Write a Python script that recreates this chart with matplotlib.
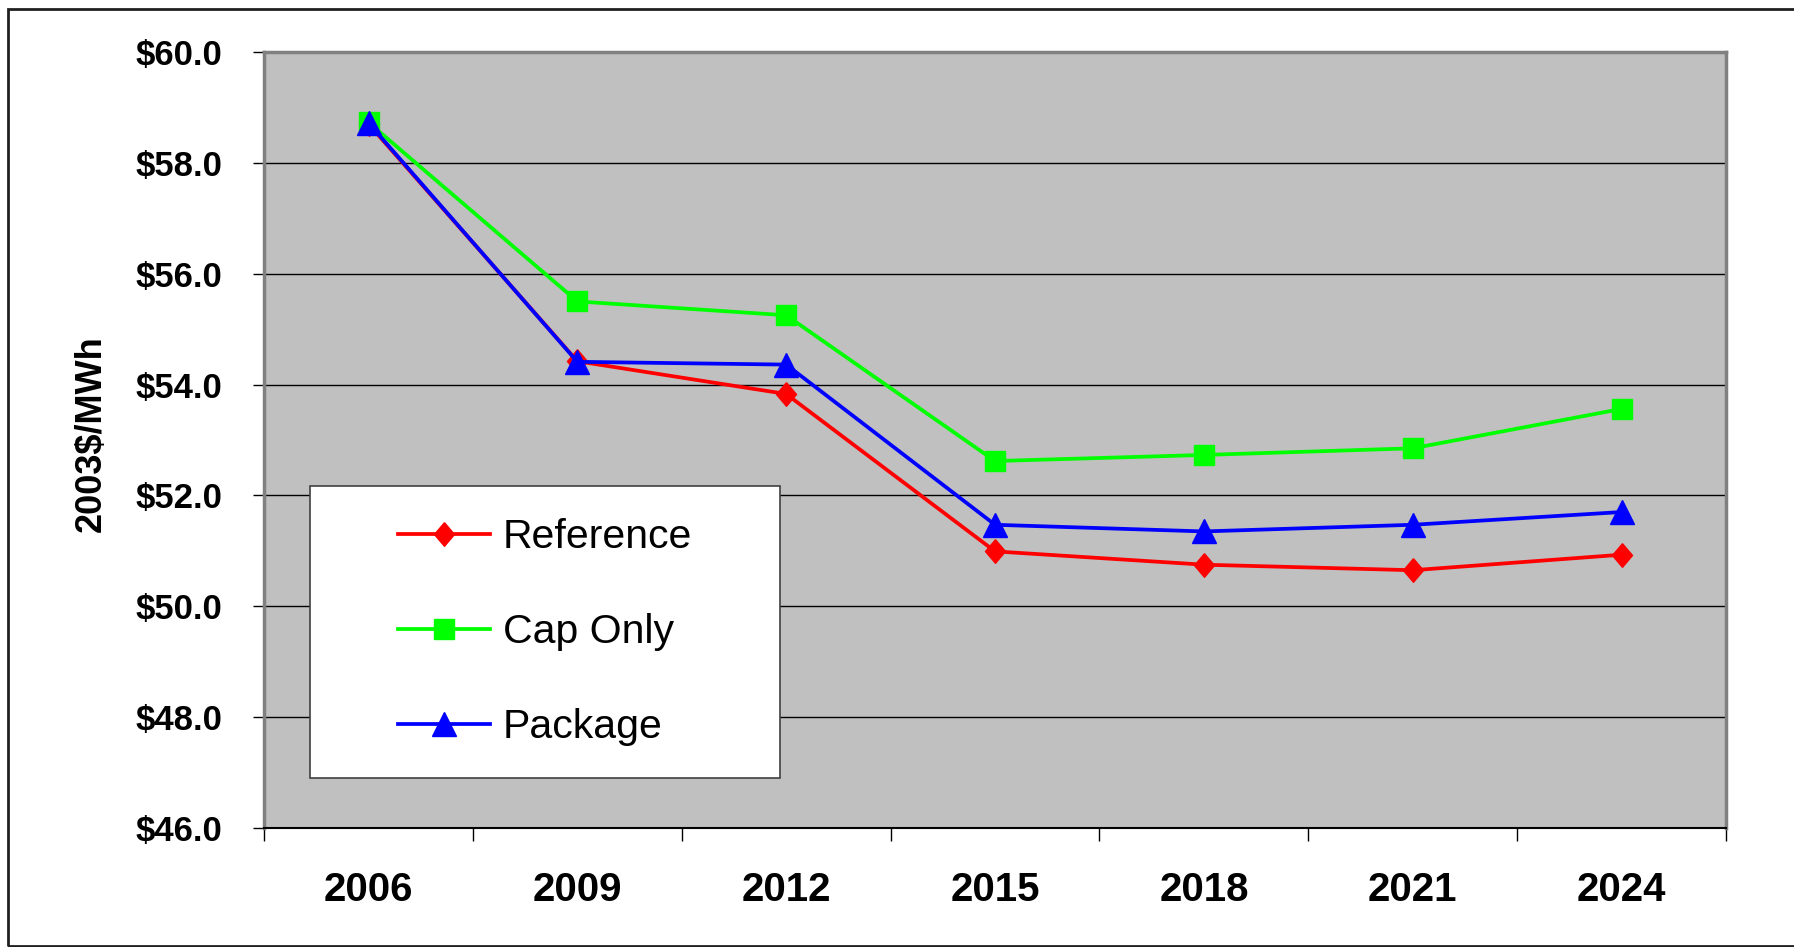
import matplotlib
matplotlib.use("Agg")
import matplotlib.pyplot as plt
from matplotlib.patches import Rectangle

# ---------------------------------------
# data (2003$/MWh)
# ---------------------------------------
years = ["2006", "2009", "2012", "2015", "2018", "2021", "2024"]
reference = [58.70, 54.42, 53.83, 50.99, 50.75, 50.65, 50.93]
cap_only = [58.73, 55.50, 55.25, 52.62, 52.73, 52.85, 53.56]
package = [58.72, 54.41, 54.36, 51.47, 51.35, 51.47, 51.70]

plt.rcParams["font.family"] = ["Liberation Sans", "DejaVu Sans"]

fig = plt.figure(figsize=(17.94, 9.47), dpi=100)
ax = fig.add_axes([0.1472, 0.1257, 0.8149, 0.8194])
ax.set_facecolor("#C0C0C0")

x = list(range(len(years)))
diamond = [(0, 1), (0.85, 0), (0, -1), (-0.85, 0), (0, 1)]

ax.plot(x, reference, color="#FF0000", lw=2.7, marker=diamond, ms=17,
        mec="#FF0000", label="Reference", zorder=3)
ax.plot(x, cap_only, color="#00FF00", lw=2.7, marker="s", ms=14.5,
        mec="#00FF00", label="Cap Only", zorder=3)
ax.plot(x, package, color="#0000FF", lw=2.7, marker="^", ms=17,
        mec="#0000FF", label="Package", zorder=4)

# axes / ticks
ax.set_xlim(-0.5, len(years) - 0.5)
ax.set_ylim(46, 60)
ax.set_yticks([46, 48, 50, 52, 54, 56, 58, 60])
ax.set_yticklabels(["$%.1f" % v for v in [46, 48, 50, 52, 54, 56, 58, 60]],
                   fontsize=25, fontweight="bold")
ax.set_xticks(x)
ax.set_xticklabels(years, fontsize=29, fontweight="bold")
ax.set_xticks([i - 0.5 for i in range(len(years) + 1)], minor=True)
ax.tick_params(axis="x", which="major", length=0, pad=31)
ax.tick_params(axis="x", which="minor", length=9.5, width=1, color="black")
ax.tick_params(axis="y", length=8, width=1, color="black", pad=22)

ax.yaxis.grid(True, color="black", lw=1)
ax.set_axisbelow(True)

for s in ["left", "top", "right"]:
    ax.spines[s].set_color("#808080")
    ax.spines[s].set_linewidth(2.5)
ax.spines["bottom"].set_color("black")
ax.spines["bottom"].set_linewidth(1.5)

fig.text(91 / 1794, 1 - 434 / 947, "2003$/MWh", rotation=90, ha="center",
         va="center", fontsize=26, fontweight="bold")

# legend box
box = Rectangle((0.0315, 0.0644), 0.3215, 0.3763, transform=ax.transAxes,
                facecolor="white", edgecolor="#404040", lw=1.2, zorder=5)
ax.add_patch(box)
leg = ax.legend(loc="center", bbox_to_anchor=(0.1922, 0.2525), frameon=False,
                fontsize=29.5, handlelength=2.25, handletextpad=0.3,
                labelspacing=1.39)
leg.set_zorder(6)

# outer frame
fig.patches.append(Rectangle((8 / 1794, 1 / 947), 1.0, (946 - 9) / 947,
                             transform=fig.transFigure, fill=False,
                             edgecolor="#202020", lw=2))

plt.savefig("out.png", dpi=100)
